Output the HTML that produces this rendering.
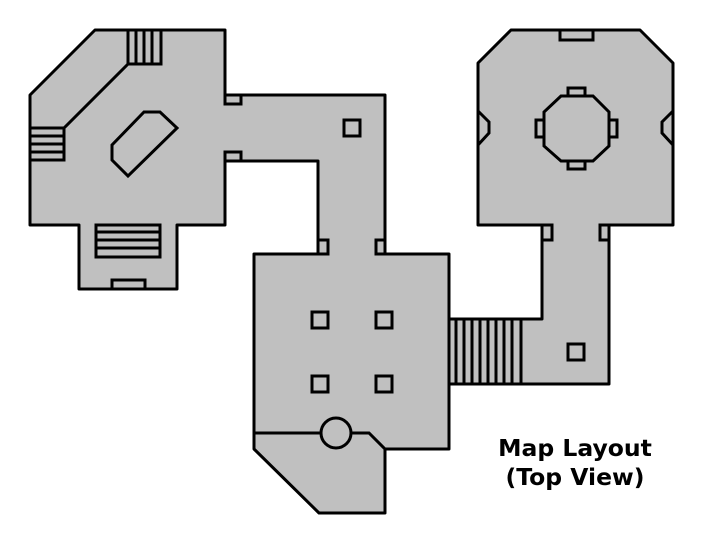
<!DOCTYPE html>
<html><head><meta charset="utf-8"><style>html,body{margin:0;padding:0;background:#fff}svg{display:block}</style></head><body>
<svg width="704" height="544" viewBox="0 0 704 544" xmlns="http://www.w3.org/2000/svg">
<g fill="#c0c0c0" stroke="#000" stroke-width="3" stroke-linejoin="round">
<path d="M95,30 L225,30 L225,95 L385,95 L385,254 L449,254 L449,319 L542,319 L542,225 L478,225 L478,63 L511,30 L640,30 L673,63 L673,225 L609,225 L609,384 L449,384 L449,449 L385,449 L385,513 L319,513 L254,449 L254,254 L318,254 L318,161 L225,161 L225,225 L177,225 L177,289 L79,289 L79,225 L30,225 L30,95 Z"/>
</g>
<g fill="none" stroke="#000" stroke-width="3" stroke-linejoin="miter">
<polyline points="478,111 489,122 489,133 478,145"/>
<polyline points="673,111 662,122 662,133 673,145"/>
<rect x="128" y="30" width="33" height="34"/>
<line x1="136" y1="30" x2="136" y2="64"/><line x1="144" y1="30" x2="144" y2="64"/><line x1="152" y1="30" x2="152" y2="64"/>
<line x1="128" y1="64" x2="64" y2="128"/>
<rect x="30" y="128" width="34" height="32"/>
<line x1="30" y1="136" x2="64" y2="136"/><line x1="30" y1="144" x2="64" y2="144"/><line x1="30" y1="152" x2="64" y2="152"/>
<polygon points="144,112 160,112 177,128 128,176 112,160 112,145"/>
<rect x="225" y="95" width="16" height="9"/>
<rect x="225" y="152" width="16" height="9"/>
<rect x="344" y="120" width="16" height="16"/>
<rect x="96" y="225" width="64" height="32"/>
<line x1="96" y1="232" x2="160" y2="232"/><line x1="96" y1="240" x2="160" y2="240"/><line x1="96" y1="248" x2="160" y2="248"/>
<rect x="112" y="280" width="33" height="9"/>
<rect x="318" y="240" width="10" height="14"/>
<rect x="376" y="240" width="9" height="14"/>
<rect x="312" y="312" width="16" height="16"/>
<rect x="376" y="312" width="16" height="16"/>
<rect x="312" y="376" width="16" height="16"/>
<rect x="376" y="376" width="16" height="16"/>
<polyline points="254,433 321,433"/>
<polyline points="351,433 369,433 385,449"/>
<circle cx="336" cy="433" r="15" fill="#c0c0c0"/>
<rect x="449" y="319" width="72" height="65"/>
<line x1="456" y1="319" x2="456" y2="384"/><line x1="464" y1="319" x2="464" y2="384"/><line x1="472" y1="319" x2="472" y2="384"/><line x1="480" y1="319" x2="480" y2="384"/><line x1="488" y1="319" x2="488" y2="384"/><line x1="496" y1="319" x2="496" y2="384"/><line x1="504" y1="319" x2="504" y2="384"/><line x1="512" y1="319" x2="512" y2="384"/>
<rect x="568" y="344" width="16" height="16"/>
<rect x="560" y="30" width="33" height="10"/>
<rect x="542" y="225" width="10" height="15"/>
<rect x="600" y="225" width="9" height="15"/>
<polygon points="561,96 593,96 609,112 609,146 593,161 561,161 544,146 544,112"/>
<rect x="568" y="88" width="17" height="8"/>
<rect x="568" y="161" width="17" height="8"/>
<rect x="536" y="120" width="8" height="17"/>
<rect x="609" y="120" width="8" height="17"/>
</g>
<text x="575" y="456" text-anchor="middle" font-family="DejaVu Sans, Liberation Sans, sans-serif" font-weight="bold" font-size="23.5">Map Layout</text>
<text x="575" y="485" text-anchor="middle" font-family="DejaVu Sans, Liberation Sans, sans-serif" font-weight="bold" font-size="23.5">(Top View)</text>
</svg>
</body></html>
